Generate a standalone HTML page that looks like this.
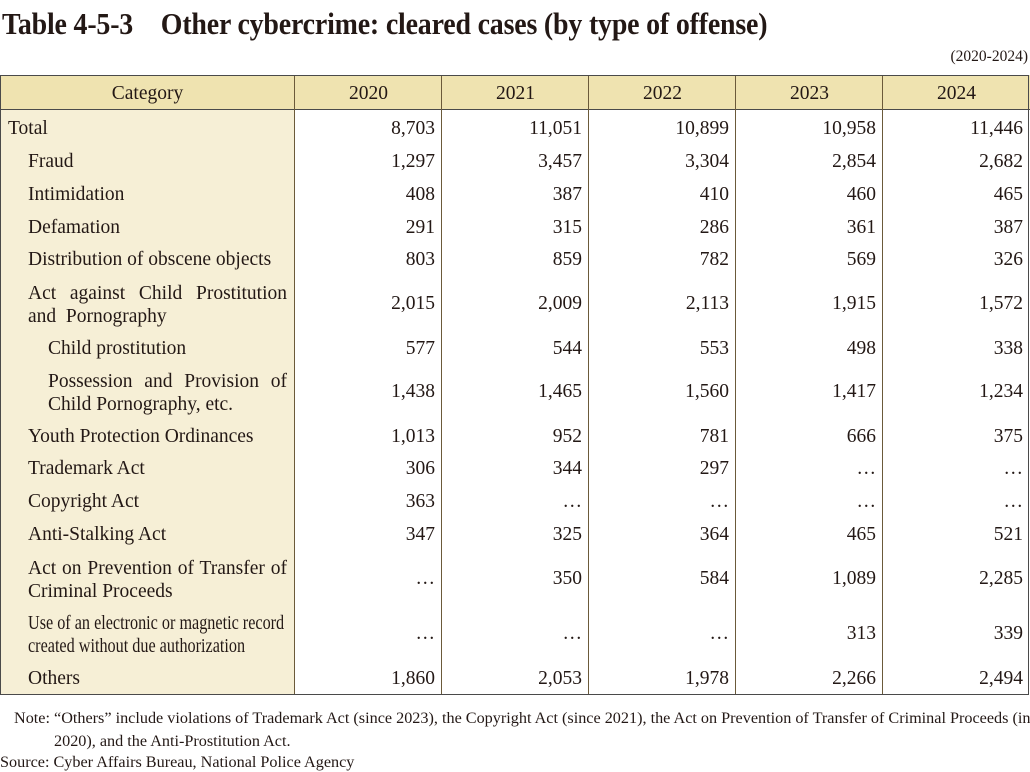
<!DOCTYPE html>
<html><head><meta charset="utf-8"><style>
body{margin:0;width:1030px;height:772px;background:#fff;font-family:"Liberation Serif",serif;color:#231815;position:relative;overflow:hidden}
.a{position:absolute;white-space:nowrap}
.title{left:2px;top:-2px;font-size:31px;font-weight:bold;transform:scaleX(0.9);transform-origin:left top;letter-spacing:-0.2px}
.t{position:absolute;left:0;top:75px;width:1029px;height:620px;border:1px solid #4a4a4a;box-sizing:border-box}
.cat{position:absolute;left:0;top:75px;width:295px;height:620px;background:#f6efd6}
.hdr{position:absolute;left:0;top:75px;width:1030px;height:35px;background:#efe3b0;border-bottom:1px solid #4a4a4a;box-sizing:border-box}
.v{position:absolute;top:75px;height:620px;width:1px;background:#6b5a3a}
.h{font-size:19.5px;top:83px;text-align:center}
.c{font-size:19.5px}
.n{font-size:19.5px;text-align:right;width:140px}
</style></head><body>
<div class="a title">Table 4-5-3　Other cybercrime: cleared cases (by type of offense)</div>
<div class="a" style="right:2px;top:48px;font-size:15.5px">(2020-2024)</div>
<div class="cat"></div><div class="hdr"></div>
<div class="v" style="left:294px"></div><div class="v" style="left:441px"></div><div class="v" style="left:588px"></div><div class="v" style="left:735px"></div><div class="v" style="left:882px"></div>
<div class="t"></div>
<div class="a h" style="left:0;width:295px">Category</div>
<div class="a h" style="left:295px;width:147px">2020</div>
<div class="a h" style="left:442px;width:147px">2021</div>
<div class="a h" style="left:589px;width:147px">2022</div>
<div class="a h" style="left:736px;width:147px">2023</div>
<div class="a h" style="left:883px;width:147px">2024</div>
<div id="rows"></div>
<script>
var R=[
[128,"Total",8,["8,703","11,051","10,899","10,958","11,446"]],
[161,"Fraud",28,["1,297","3,457","3,304","2,854","2,682"]],
[194,"Intimidation",28,["408","387","410","460","465"]],
[227,"Defamation",28,["291","315","286","361","387"]],
[259,"Distribution of obscene objects",28,["803","859","782","569","326"]],
[303,"Act against Child Prostitution<br>and&nbsp; Pornography",28,["2,015","2,009","2,113","1,915","1,572"],1],
[348,"Child prostitution",48,["577","544","553","498","338"]],
[391,"Possession and Provision of<br>Child Pornography, etc.",48,["1,438","1,465","1,560","1,417","1,234"],1],
[436,"Youth Protection Ordinances",28,["1,013","952","781","666","375"]],
[468,"Trademark Act",28,["306","344","297","…","…"]],
[501,"Copyright Act",28,["363","…","…","…","…"]],
[534,"Anti-Stalking Act",28,["347","325","364","465","521"]],
[578,"Act on Prevention of Transfer of<br>Criminal Proceeds",28,["…","350","584","1,089","2,285"],1],
[633,"Use of an electronic or magnetic record<br>created without due authorization",28,["…","…","…","313","339"],2],
[678,"Others",28,["1,860","2,053","1,978","2,266","2,494"]]];
var h="";R.forEach(function(r){
 var st,y=r[0]+2;
 if(r[4]==1){st="left:"+r[2]+"px;top:"+(y-23)+"px;line-height:23px;width:"+(287-r[2])+"px;text-align:justify;text-align-last:justify;white-space:normal"; h+='<div class="a c" style="'+st+'">'+r[1].replace("<br>",'<br><span style="text-align-last:left;display:inline-block">')+'</span></div>';}
 else if(r[4]==2){h+='<div class="a c" style="left:'+r[2]+'px;top:'+(y-23)+'px;line-height:23px;transform:scaleX(0.83);transform-origin:left top">'+r[1]+'</div>';}
 else h+='<div class="a c" style="left:'+r[2]+'px;top:'+(y-12)+'px">'+r[1]+'</div>';
 for(var i=0;i<5;i++)h+='<div class="a n" style="left:'+(295+147*i)+'px;top:'+(y-12)+'px">'+r[3][i]+'</div>';
});
document.getElementById("rows").innerHTML=h;
</script>
<div class="a" style="left:14px;top:707px;font-size:16.2px;line-height:23px">Note: “Others” include violations of Trademark Act (since 2023), the Copyright Act (since 2021), the Act on Prevention of Transfer of Criminal Proceeds (in<br><span style="padding-left:40px">2020), and the Anti-Prostitution Act.</span></div>
<div class="a" style="left:0;top:753px;font-size:16.2px">Source: Cyber Affairs Bureau, National Police Agency</div>
</body></html>
